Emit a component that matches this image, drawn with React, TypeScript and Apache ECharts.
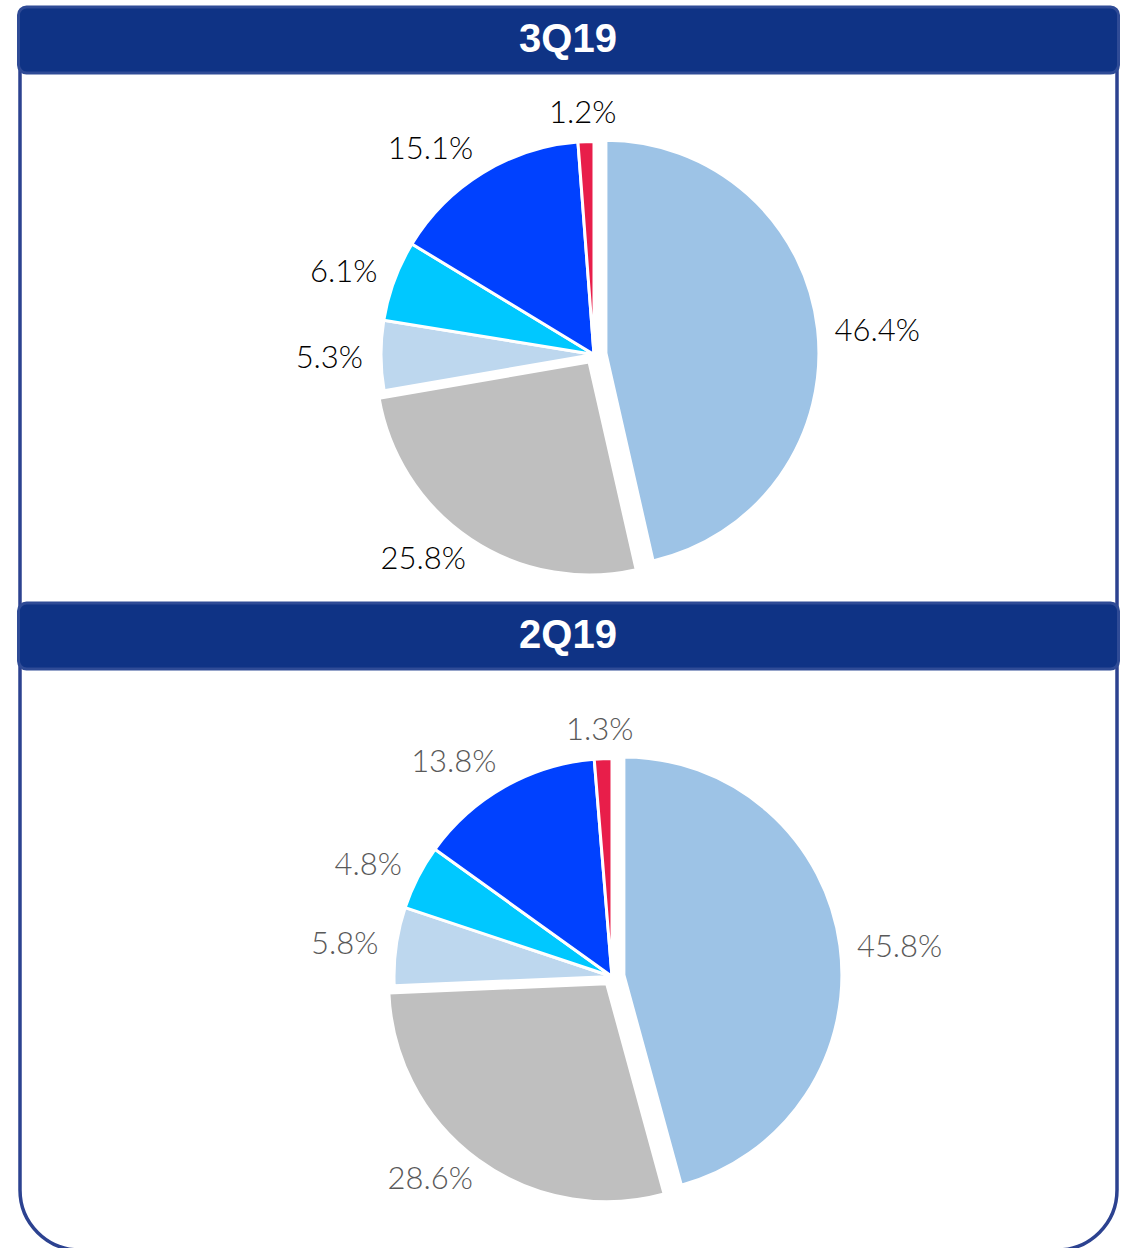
import React, { useEffect, useRef } from "react";
import * as echarts from "echarts";

// ---- data ----
const sliceNames = ["Segment 1", "Segment 2", "Segment 3", "Segment 4", "Segment 5", "Segment 6"];
const values3Q19 = [46.4, 25.8, 5.3, 6.1, 15.1, 1.2];
const values2Q19 = [45.8, 28.6, 5.8, 4.8, 13.8, 1.3];
const panelTitles = ["3Q19", "2Q19"];
const sliceColors = ["#9dc3e6", "#bfbfbf", "#bdd7ee", "#00c8ff", "#0041ff", "#e81e4a"];
// exploded slices (index -> offset in px)
const explodedSlices = [
  { index: 0, offset: 12 },
  { index: 1, offset: 9 },
];

const W = 1124;
const H = 1248;
const TRANSPARENT = "rgba(0,0,0,0)";
const LABEL_GAP = 18;

function pieSeries(values: number[], center: [number, number], radius: number, labelColor: string) {
  const explodedIdx = explodedSlices.map((e) => e.index);
  const base: any = {
    type: "pie",
    center,
    radius,
    startAngle: 90,
    clockwise: true,
    avoidLabelOverlap: false,
    silent: true,
    z: 2,
    label: {
      show: true,
      position: "outside",
      formatter: (p: any) => Number(p.value).toFixed(1) + "%",
      color: labelColor,
      fontFamily: "Lato, 'Noto Sans', sans-serif",
      fontWeight: 300,
      fontSize: 31,
    },
    labelLine: { show: true, length: 18, length2: 6, lineStyle: { width: 0, opacity: 0 } },
    // outside-end label placement: the box sits just beyond the slice edge along its mid direction
    labelLayout: (params: any) => {
      if (params.dataIndex === 0) return {};
      const pts = params.labelLinePoints;
      if (!pts || pts.length < 2) return {};
      const p1 = pts[0];
      const p2 = pts[1];
      let dx = p2[0] - p1[0];
      let dy = p2[1] - p1[1];
      const len = Math.hypot(dx, dy) || 1;
      dx /= len;
      dy /= len;
      const hw = params.labelRect.width / 2;
      const hh = (params.labelRect.height / 2) * 0.8;
      const sx = Math.sign(dx) * hw * Math.min(1, 2 * Math.abs(dx));
      const sy = dy * hh;
      return {
        x: p1[0] + dx * LABEL_GAP + sx,
        y: p1[1] + dy * LABEL_GAP + sy,
        align: "center",
        verticalAlign: "middle",
      };
    },
    data: values.map((v, i) => ({
      name: sliceNames[i],
      value: v,
      itemStyle: explodedIdx.includes(i)
        ? { color: TRANSPARENT, borderWidth: 0 }
        : { color: sliceColors[i], borderColor: "#ffffff", borderWidth: 3 },
    })),
  };
  const extra = explodedSlices.map((e, k) => ({
    type: "pie",
    center,
    radius,
    startAngle: 90,
    clockwise: true,
    silent: true,
    selectedMode: "multiple",
    selectedOffset: e.offset,
    z: 3 + k,
    label: { show: false },
    labelLine: { show: false },
    data: values.map((v, i) => ({
      name: sliceNames[i],
      value: v,
      selected: i === e.index,
      itemStyle:
        i === e.index
          ? { color: sliceColors[i], borderColor: "#ffffff", borderWidth: 3 }
          : { color: TRANSPARENT, borderWidth: 0 },
    })),
  }));
  return [base, ...extra];
}

function header(y: number, h: number, title: string) {
  return [
    {
      type: "rect",
      z: 10,
      shape: { x: 18.5, y, width: 1100, height: h, r: 8 },
      style: { fill: "#0f3385", stroke: "#2f4b96", lineWidth: 3 },
    },
    {
      type: "text",
      z: 11,
      x: 568,
      y: y + h / 2 - 2,
      style: {
        text: title,
        fill: "#ffffff",
        font: "bold 40px 'Liberation Sans', Arial, sans-serif",
        textAlign: "center",
        textVerticalAlign: "middle",
      },
    },
  ];
}

export default function App() {
  const ref = useRef<HTMLDivElement>(null);
  useEffect(() => {
    if (!ref.current) return;
    const chart = echarts.init(ref.current, undefined, { renderer: "svg", width: W, height: H });
    chart.setOption({
      animation: false,
      backgroundColor: "#ffffff",
      graphic: [
        {
          type: "rect",
          z: 1,
          shape: { x: 20, y: 40, width: 1097, height: 1210, r: [0, 0, 60, 60] },
          style: { fill: "none", stroke: "#2c4290", lineWidth: 3.5 },
        },
        ...header(7, 66, panelTitles[0]),
        ...header(603, 66, panelTitles[1]),
      ],
      series: [
        ...pieSeries(values3Q19, [594, 354.5], 213, "#000000"),
        ...pieSeries(values2Q19, [612, 976.5], 218, "#595959"),
      ],
    });
    return () => chart.dispose();
  }, []);
  return (
    <div
      ref={ref}
      style={{ position: "fixed", left: 0, top: 0, width: W, height: H, background: "#fff" }}
    />
  );
}
